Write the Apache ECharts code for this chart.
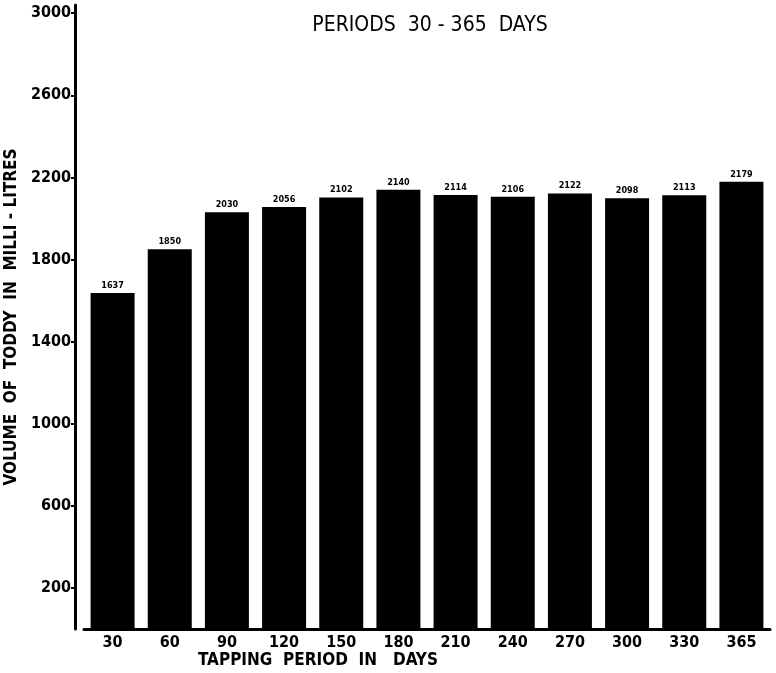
<!DOCTYPE html>
<html>
<head>
    <meta charset="utf-8" />
    <title>Toddy volume</title>
    <script src="https://cdn.jsdelivr.net/npm/echarts@6/dist/echarts.min.js"></script>
    <style>
        body { margin: 0; background: #fff; }
        #main { width: 776px; height: 673px; }
    </style>
</head>
<body>
    <div id="main"></div>
    <script type="text/javascript">
        // tapping period (days) and mean toddy volume (ml)
        var periods = ['30', '60', '90', '120', '150', '180', '210', '240', '270', '300', '330', '365'];
        var volumes = [1637, 1850, 2030, 2056, 2102, 2140, 2114, 2106, 2122, 2098, 2113, 2179];
        var yTicks = [200, 600, 1000, 1400, 1800, 2200, 2600, 3000];

        var font = "'DejaVu Sans Condensed', 'Liberation Sans Narrow', sans-serif";
        var myChart = echarts.init(document.getElementById('main'));

        var option = {
            backgroundColor: '#fff',
            animation: false,
            title: {
                text: 'PERIODS  30 - 365  DAYS',
                left: 425,
                top: 10,
                textAlign: 'center',
                textStyle: { fontFamily: font, fontSize: 21, fontWeight: 'normal', color: '#000' }
            },
            graphic: [{
                type: 'text',
                left: 198,
                top: 652,
                style: { text: 'TAPPING  PERIOD  IN   DAYS', font: 'bold 17px ' + font, fill: '#000' }
            }],
            grid: { left: 84, right: 6, top: 5, bottom: 44, outerBoundsMode: 'none', containLabel: false },
            xAxis: {
                type: 'category',
                data: periods,
                axisLine: { lineStyle: { color: '#000', width: 3 } },
                axisTick: { show: false },
                axisLabel: { color: '#000', fontFamily: font, fontWeight: 'bold', fontSize: 16, margin: 6 }
            },
            yAxis: {
                type: 'value',
                min: 0,
                max: 3040,
                offset: 9,
                name: 'VOLUME  OF  TODDY  IN  MILLI - LITRES',
                nameLocation: 'middle',
                nameGap: 42,
                nameTextStyle: { color: '#000', fontFamily: font, fontWeight: 'bold', fontSize: 17 },
                splitLine: { show: false },
                axisLine: { show: true, lineStyle: { color: '#000', width: 3 } },
                axisTick: { show: true, customValues: yTicks, length: 4, lineStyle: { color: '#000', width: 2 } },
                axisLabel: {
                    customValues: yTicks,
                    formatter: function (v) { return String(v); },
                    color: '#000', fontFamily: font, fontWeight: 'bold', fontSize: 16, margin: 4
                }
            },
            series: [{
                type: 'bar',
                data: volumes,
                barWidth: 44,
                itemStyle: { color: '#000' },
                label: {
                    show: true,
                    position: 'top',
                    distance: 3,
                    color: '#000',
                    fontFamily: font,
                    fontWeight: 'bold',
                    fontSize: 9
                }
            }]
        };

        myChart.setOption(option);
    </script>
</body>
</html>
